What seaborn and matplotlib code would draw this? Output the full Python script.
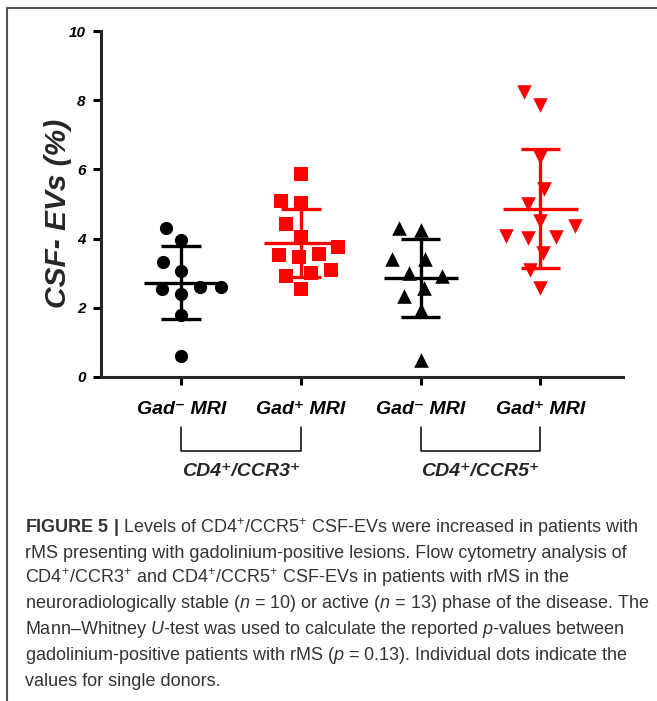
import numpy as np
import pandas as pd
import matplotlib
matplotlib.use("Agg")
import matplotlib.pyplot as plt
import matplotlib.transforms as mtransforms
from matplotlib.lines import Line2D
import seaborn as sns

# categories and labels
groups = ["CCR3 Gad-", "CCR3 Gad+", "CCR5 Gad-", "CCR5 Gad+"]
tick_labels = ["Gad\u207b MRI", "Gad\u207a MRI", "Gad\u207b MRI", "Gad\u207a MRI"]
panel_labels = ["CD4\u207a/CCR3\u207a", "CD4\u207a/CCR5\u207a"]

# values (CSF-EVs %)
ccr3_gad_neg = [4.32, 3.95, 3.31, 3.07, 2.60, 2.55, 2.39, 2.60, 1.80, 0.60]
ccr3_gad_pos = [5.87, 5.08, 5.02, 4.42, 4.05, 3.77, 3.53, 3.48, 3.56, 3.02, 3.09, 2.92, 2.53]
ccr5_gad_neg = [4.30, 4.25, 3.40, 3.40, 2.92, 3.00, 2.34, 2.58, 1.94, 0.49]
ccr5_gad_pos = [8.25, 7.86, 6.36, 5.43, 5.00, 4.50, 4.37, 4.08, 4.02, 4.05, 3.58, 3.09, 2.56]

caption_lines = [
    r"$\mathbf{FIGURE\ 5\ |}$ Levels of CD4$^{+}$/CCR5$^{+}$ CSF-EVs were increased in patients with",
    "rMS presenting with gadolinium-positive lesions. Flow cytometry analysis of",
    "CD4$^{+}$/CCR3$^{+}$ and CD4$^{+}$/CCR5$^{+}$ CSF-EVs in patients with rMS in the",
    "neuroradiologically stable ($n$ = 10) or active ($n$ = 13) phase of the disease. The",
    "Mann\u2013Whitney $U$-test was used to calculate the reported $p$-values between",
    "gadolinium-positive patients with rMS ($p$ = 0.13). Individual dots indicate the",
    "values for single donors.",
]

colors = ["black", "#ff0000", "black", "#ff0000"]
markers = ["o", "s", "^", "v"]
sizes = [9.5, 9.5, 10.5, 10.5]

sns.set_theme(style="ticks")
plt.rcParams["font.family"] = ["Liberation Sans", "DejaVu Sans"]
plt.rcParams["mathtext.fontset"] = "custom"
plt.rcParams["mathtext.rm"] = "Liberation Sans"
plt.rcParams["mathtext.it"] = "Liberation Sans:italic"
plt.rcParams["mathtext.bf"] = "Liberation Sans:bold"

df = pd.DataFrame({
    "group": [groups[0]] * len(ccr3_gad_neg) + [groups[1]] * len(ccr3_gad_pos)
             + [groups[2]] * len(ccr5_gad_neg) + [groups[3]] * len(ccr5_gad_pos),
    "value": ccr3_gad_neg + ccr3_gad_pos + ccr5_gad_neg + ccr5_gad_pos,
})

fig = plt.figure(figsize=(6.57, 7.01), dpi=100)
ax = fig.add_axes([101 / 657, 1 - 377 / 701, 522 / 657, 346 / 701])

for i, g in enumerate(groups):
    sub = df[df["group"] == g]
    # invisible wide edge spreads the swarm out a bit, like the original
    sns.swarmplot(data=sub, x="group", y="value", order=groups, color=colors[i],
                  marker=markers[i], size=sizes[i], linewidth=4.5,
                  edgecolor=(1, 1, 1, 0), ax=ax, zorder=3)
    # mean +/- SD
    m = sub["value"].mean()
    sd = sub["value"].std()
    ax.hlines(m, i - 0.31, i + 0.31, color=colors[i], lw=2.4, zorder=4)
    ax.vlines(i, m - sd, m + sd, color=colors[i], lw=2.4, zorder=4)
    ax.hlines([m - sd, m + sd], i - 0.165, i + 0.165, color=colors[i], lw=2.4, zorder=4)

ax.set_xlim(-0.67, 3.69)
ax.set_ylim(0, 10)
ax.set_yticks(np.arange(0, 11, 2))
ax.set_yticklabels([str(v) for v in range(0, 11, 2)], fontsize=11,
                   fontweight="bold", style="italic")
ax.set_xticks(range(4))
ax.set_xticklabels(tick_labels, fontsize=14, fontweight="bold", style="italic")
ax.set_xlabel("")
ax.set_ylabel("CSF- EVs (%)", fontsize=21.5, fontweight="bold", style="italic")
ax.yaxis.set_label_coords(-0.056, 0.474)

sns.despine(ax=ax)
for s in ["left", "bottom"]:
    ax.spines[s].set_linewidth(2.2)
ax.tick_params(axis="y", width=2.2, length=6, pad=5, colors="black")
ax.tick_params(axis="x", width=2.2, length=6, pad=11, colors="black")

# brackets grouping the markers
trans = mtransforms.blended_transform_factory(ax.transData, ax.transAxes)
for k, (a, b) in enumerate([(0, 1), (2, 3)]):
    ax.plot([a, a, b, b], [-0.145, -0.214, -0.214, -0.145], transform=trans,
            clip_on=False, color="black", lw=1.1)
    ax.text((a + b) / 2, -0.272, panel_labels[k], transform=trans, ha="center",
            va="center", fontsize=14, fontweight="bold", style="italic")

# frame around figure panel
fig.add_artist(Line2D([7 / 657, 1], [1 - 8 / 701, 1 - 8 / 701], color="#555555", lw=1.5))
fig.add_artist(Line2D([7 / 657, 7 / 657], [0, 1 - 8 / 701], color="#555555", lw=1.5))

# caption
caption_y = [528, 553, 578, 604, 630, 656, 681]
for line, y in zip(caption_lines, caption_y):
    fig.text(25 / 657, 1 - y / 701, line, fontsize=13, color="#333333",
             ha="left", va="center")

fig.savefig("out.png", dpi=100)
